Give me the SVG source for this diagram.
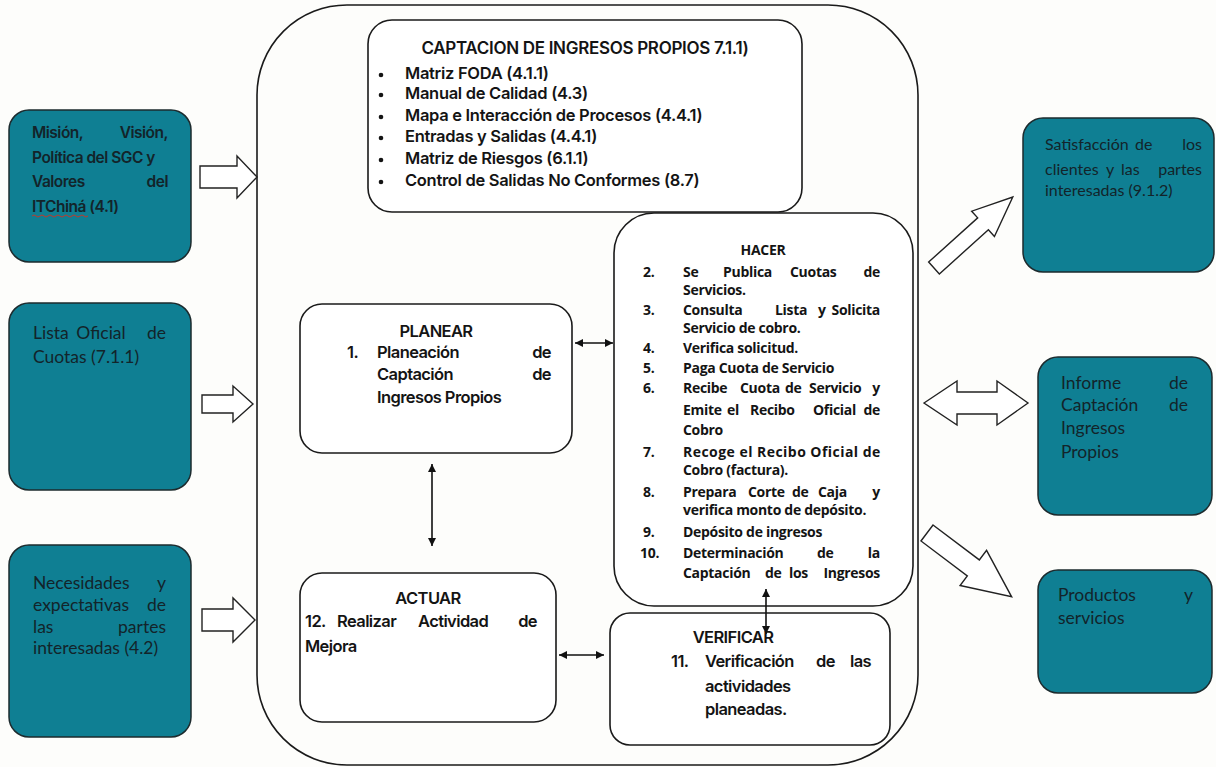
<svg xmlns="http://www.w3.org/2000/svg" width="1216" height="767" viewBox="0 0 1216 767">
<defs>
<style>
.bg{fill:#fdfdfb}
.box{fill:#fff;stroke:#1a1a1a;stroke-width:1.6}
.cont{fill:none;stroke:#1a1a1a;stroke-width:1.6}
.teal{fill:#0f7f93;stroke:#1d2b2e;stroke-width:1.5}
.blk{fill:#fff;stroke:#222;stroke-width:1.4;stroke-linejoin:miter}
.conn{stroke:#111;stroke-width:1.6;fill:none;marker-start:url(#ah);marker-end:url(#ah)}
.m{font-family:Inter,"Open Sans","Liberation Sans",sans-serif;font-weight:600;font-size:16.5px;fill:#141414;letter-spacing:-0.3px}
.t{font-family:Inter,"Open Sans","Liberation Sans",sans-serif;font-weight:600;font-size:17px;fill:#141414;letter-spacing:-0.3px}
.p{font-family:Inter,"Open Sans","Liberation Sans",sans-serif;font-weight:600;font-size:16.5px;fill:#141414;letter-spacing:-0.6px}
.h{font-family:"Open Sans","Liberation Sans",sans-serif;font-weight:700;font-size:14px;fill:#141414;letter-spacing:-0.3px}
.c{font-family:Lato,"Liberation Sans",sans-serif;font-size:17.5px;fill:#13242a}
.s{font-family:Lato,"Liberation Sans",sans-serif;font-size:16px;fill:#13242a}
.mt{font-family:Inter,"Open Sans","Liberation Sans",sans-serif;font-weight:600;font-size:15.5px;fill:#13242a;letter-spacing:-0.5px}
.e{text-anchor:end}
.mid{text-anchor:middle}
</style>
<marker id="ah" viewBox="0 0 10 10" refX="10" refY="5" markerWidth="9" markerHeight="8" orient="auto-start-reverse" markerUnits="userSpaceOnUse"><path d="M0,0 L10,5 L0,10 z" fill="#111"/></marker>
</defs>
<rect class="bg" x="0" y="0" width="1216" height="767"/>

<g id="container"><rect class="cont" x="257" y="5" width="661" height="760" rx="90" ry="90"/></g>

<g id="mision">
<rect class="teal" x="9" y="110" width="182" height="152" rx="20"/>
<text class="mt" x="32" y="138">Misión,</text><text class="mt e" x="168" y="138">Visión,</text>
<text class="mt" x="32" y="163">Política del SGC y</text>
<text class="mt" x="32" y="187">Valores</text><text class="mt e" x="168" y="187">del</text>
<text class="mt" x="32" y="212">ITChiná (4.1)</text>
<path d="M32,216 q2,-2 4,0 t4,0 t4,0 t4,0 t4,0 t4,0 t4,0 t4,0 t4,0 t4,0 t4,0 t4,0 t4,0 t4,0" fill="none" stroke="#c0392b" stroke-width="1"/>
</g>

<g id="lista">
<rect class="teal" x="9" y="303" width="182" height="187" rx="20"/>
<text class="c" x="33" y="339">Lista</text><text class="c mid" x="101" y="339">Oficial</text><text class="c e" x="166" y="339">de</text>
<text class="c" x="33" y="363">Cuotas (7.1.1)</text>
</g>

<g id="necesidades">
<rect class="teal" x="9" y="545" width="182" height="192" rx="20"/>
<text class="c" x="33" y="589">Necesidades</text><text class="c e" x="166" y="589">y</text>
<text class="c" x="33" y="611">expectativas</text><text class="c e" x="166" y="611">de</text>
<text class="c" x="33" y="633">las</text><text class="c e" x="166" y="633">partes</text>
<text class="c" x="33" y="654">interesadas (4.2)</text>
</g>

<g id="captacion">
<rect class="box" x="368" y="20" width="434" height="192" rx="24"/>
<text class="t mid" x="585" y="54">CAPTACION DE INGRESOS PROPIOS  7.1.1)</text>
<g class="m">
<circle cx="381" cy="75" r="2.3"/><text x="405" y="79">Matriz FODA (4.1.1)</text>
<circle cx="381" cy="95" r="2.3"/><text x="405" y="99">Manual de Calidad (4.3)</text>
<circle cx="381" cy="117" r="2.3"/><text x="405" y="121">Mapa e Interacción de Procesos (4.4.1)</text>
<circle cx="381" cy="138" r="2.3"/><text x="405" y="142">Entradas y Salidas (4.4.1)</text>
<circle cx="381" cy="160" r="2.3"/><text x="405" y="164">Matriz de Riesgos (6.1.1)</text>
<circle cx="381" cy="182" r="2.3"/><text x="405" y="186">Control de Salidas No Conformes (8.7)</text>
</g>
</g>

<g id="planear">
<rect class="box" x="300" y="304" width="272" height="149" rx="22"/>
<text class="p mid" x="436" y="337">PLANEAR</text>
<text class="p" x="347" y="358">1.</text><text class="p" x="377" y="358">Planeación</text><text class="p e" x="551" y="358">de</text>
<text class="p" x="377" y="380">Captación</text><text class="p e" x="551" y="380">de</text>
<text class="p" x="377" y="403">Ingresos Propios</text>
</g>

<g id="hacer">
<rect class="box" x="614" y="213" width="299" height="393" rx="40"/>
<text class="h mid" x="763" y="255">HACER</text>
<text class="h" x="643" y="277">2.</text><text class="h" x="683" y="277">Se</text><text class="h" x="723" y="277">Publica</text><text class="h" x="790" y="277">Cuotas</text><text class="h e" x="880" y="277">de</text>
<text class="h" x="683" y="295">Servicios.</text>
<text class="h" x="643" y="315">3.</text><text class="h" x="683" y="315">Consulta</text><text class="h" x="775" y="315">Lista</text><text class="h" x="818" y="315">y</text><text class="h e" x="880" y="315">Solicita</text>
<text class="h" x="683" y="333">Servicio de cobro.</text>
<text class="h" x="643" y="353">4.</text><text class="h" x="683" y="353">Verifica solicitud.</text>
<text class="h" x="643" y="373">5.</text><text class="h" x="683" y="373">Paga Cuota de Servicio</text>
<text class="h" x="643" y="393">6.</text><text class="h" x="683" y="393">Recibe</text><text class="h" x="740" y="393">Cuota</text><text class="h" x="785" y="393">de</text><text class="h" x="809" y="393">Servicio</text><text class="h e" x="880" y="393">y</text>
<text class="h" x="683" y="415">Emite</text><text class="h" x="727" y="415">el</text><text class="h" x="750" y="415">Recibo</text><text class="h" x="813" y="415">Oficial</text><text class="h e" x="880" y="415">de</text>
<text class="h" x="683" y="435">Cobro</text>
<text class="h" x="643" y="457">7.</text><text class="h" x="683" y="457" textLength="197" lengthAdjust="spacing">Recoge el Recibo Oficial de</text>
<text class="h" x="683" y="475">Cobro (factura).</text>
<text class="h" x="643" y="497">8.</text><text class="h" x="683" y="497">Prepara</text><text class="h" x="748" y="497">Corte</text><text class="h" x="792" y="497">de</text><text class="h" x="818" y="497">Caja</text><text class="h e" x="880" y="497">y</text>
<text class="h" x="683" y="515">verifica monto de depósito.</text>
<text class="h" x="643" y="537">9.</text><text class="h" x="683" y="537">Depósito de ingresos</text>
<text class="h" x="640" y="558">10.</text><text class="h" x="683" y="558">Determinación</text><text class="h" x="817" y="558">de</text><text class="h e" x="880" y="558">la</text>
<text class="h" x="683" y="578">Captación</text><text class="h" x="765" y="578">de</text><text class="h" x="789" y="578">los</text><text class="h e" x="880" y="578">Ingresos</text>
</g>

<g id="actuar">
<rect class="box" x="300" y="573" width="256" height="149" rx="22"/>
<text class="p mid" x="428" y="604">ACTUAR</text>
<text class="p" x="305" y="627">12.</text><text class="p" x="337" y="627">Realizar</text><text class="p" x="418" y="627">Actividad</text><text class="p e" x="537" y="627">de</text>
<text class="p" x="305" y="652">Mejora</text>
</g>

<g id="verificar">
<rect class="box" x="610" y="613" width="280" height="132" rx="20"/>
<text class="p mid" x="733" y="643">VERIFICAR</text>
<text class="p" x="671" y="667">11.</text><text class="p" x="705" y="667">Verificación</text><text class="p" x="816" y="667">de</text><text class="p e" x="871" y="667">las</text>
<text class="p" x="705" y="692">actividades</text>
<text class="p" x="705" y="715">planeadas.</text>
</g>

<g id="satisfaccion">
<rect class="teal" x="1023" y="118" width="191" height="154" rx="20"/>
<text class="s" x="1045" y="150">Satisfacción</text><text class="s" x="1135" y="150">de</text><text class="s e" x="1202" y="150">los</text>
<text class="s" x="1045" y="175">clientes</text><text class="s" x="1106" y="175">y</text><text class="s" x="1121" y="175">las</text><text class="s e" x="1202" y="175">partes</text>
<text class="s" x="1045" y="196">interesadas (9.1.2)</text>
</g>

<g id="informe">
<rect class="teal" x="1038" y="357" width="174" height="158" rx="20"/>
<text class="c" x="1061" y="389">Informe</text><text class="c e" x="1188" y="389">de</text>
<text class="c" x="1061" y="411">Captación</text><text class="c e" x="1188" y="411">de</text>
<text class="c" x="1061" y="434">Ingresos</text>
<text class="c" x="1061" y="458">Propios</text>
</g>

<g id="productos">
<rect class="teal" x="1038" y="570" width="174" height="123" rx="20"/>
<text class="c" x="1058" y="601">Productos</text><text class="c e" x="1193" y="601">y</text>
<text class="c" x="1058" y="624">servicios</text>
</g>

<g id="connectors">
<line class="conn" x1="575" y1="343" x2="613" y2="343"/>
<line class="conn" x1="432" y1="464" x2="432" y2="546"/>
<line class="conn" x1="766" y1="589" x2="766" y2="634"/>
<line class="conn" x1="559" y1="655" x2="604" y2="655"/>
<polygon class="blk" points="200,166 237,166 237,156 257,177 237,198 237,188 200,188"/>
<polygon class="blk" points="202,395 233,395 233,386 253,404 233,422 233,413 202,413"/>
<polygon class="blk" points="202,609 233,609 233,598 255,620 233,642 233,631 202,631"/>
<polygon class="blk" points="924,403 957,381 957,392 997,392 997,381 1028,403 997,425 997,414 957,414 957,425"/>
<polygon class="blk" transform="translate(934,268) rotate(-42)" points="0,-8 66,-8 66,-17 106,0 66,17 66,8 0,8"/>
<polygon class="blk" transform="translate(927,533) rotate(37)" points="0,-10 58,-10 58,-22 106,0 58,22 58,10 0,10"/>
</g>
</svg>
